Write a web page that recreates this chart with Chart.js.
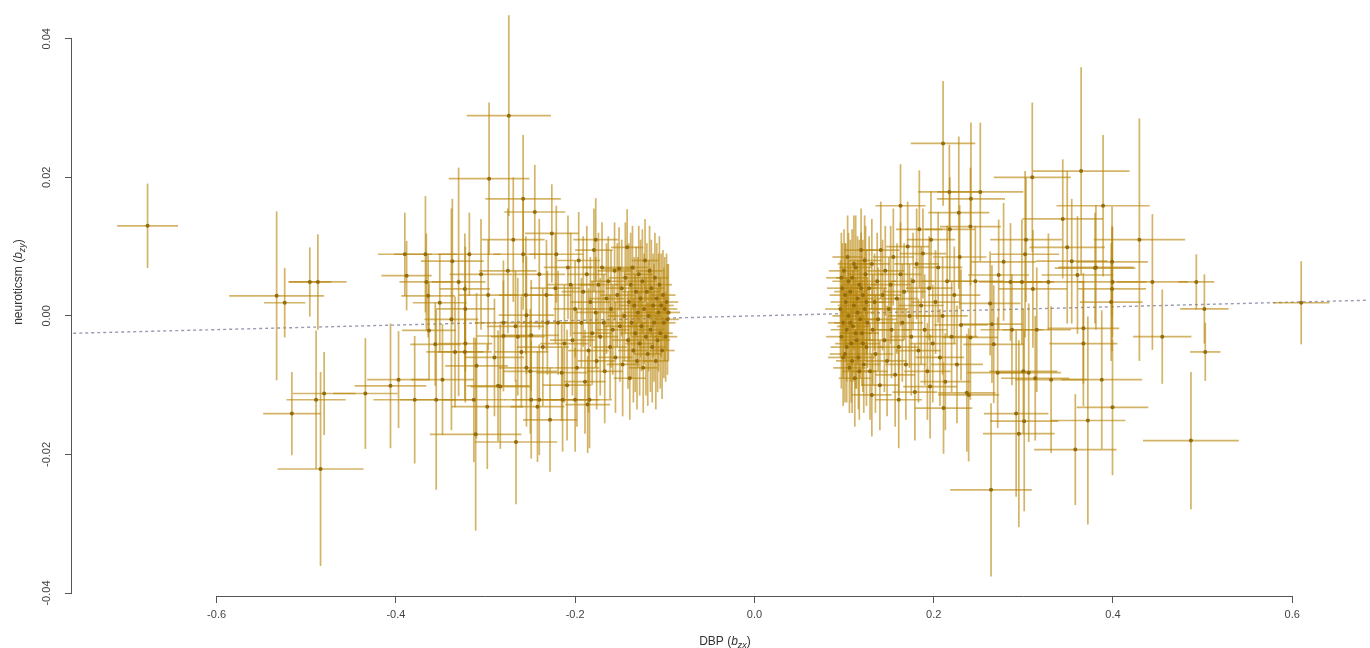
<!DOCTYPE html>
<html>
<head>
<meta charset="utf-8">
<script src="https://cdn.jsdelivr.net/npm/chart.js@4.4.1/dist/chart.umd.min.js"></script>
<style>
  body { margin: 0; background: #fff; }
</style>
</head>
<body>
<canvas id="myChart" width="1370" height="648"></canvas>
<script>
// each SNP: [b_zx, b_zy, se_zx, se_zy]
const leftOuter = [
  [-0.677, 0.0130, 0.034, 0.0061], [-0.533, 0.0029, 0.053, 0.0122], [-0.524, 0.0019, 0.023, 0.0050],
  [-0.496, 0.0049, 0.024, 0.0050], [-0.487, 0.0049, 0.032, 0.0069], [-0.516, -0.0141, 0.032, 0.0060],
  [-0.489, -0.0121, 0.033, 0.0100], [-0.480, -0.0112, 0.035, 0.0060], [-0.484, -0.0221, 0.048, 0.0140],
  [-0.434, -0.0112, 0.036, 0.0080], [-0.406, -0.0101, 0.040, 0.0090], [-0.397, -0.0092, 0.035, 0.0070],
  [-0.379, -0.0121, 0.046, 0.0092], [-0.355, -0.0121, 0.040, 0.0130], [-0.390, 0.0089, 0.030, 0.0060],
  [-0.367, 0.0089, 0.035, 0.0084], [-0.388, 0.0058, 0.028, 0.0050], [-0.366, 0.0049, 0.030, 0.0070],
  [-0.364, 0.0029, 0.030, 0.0060], [-0.363, -0.0021, 0.030, 0.0070], [-0.356, -0.0041, 0.028, 0.0060],
  [-0.348, -0.0092, 0.035, 0.0080], [-0.337, 0.0079, 0.035, 0.0090], [-0.351, 0.0019, 0.030, 0.0070],
  [-0.334, -0.0052, 0.032, 0.0080], [-0.338, -0.0005, 0.030, 0.0160], [-0.330, 0.0049, 0.030, 0.0165],
  [-0.318, 0.0089, 0.035, 0.0060], [-0.323, 0.0039, 0.028, 0.0080], [-0.323, -0.0052, 0.030, 0.0070],
  [-0.3225, 0.0010, 0.033, 0.0090], [-0.3225, -0.0040, 0.030, 0.0085], [-0.313, -0.0121, 0.035, 0.0090],
  [-0.310, -0.0072, 0.035, 0.0105], [-0.311, -0.0171, 0.051, 0.0139], [-0.305, 0.0060, 0.035, 0.0080],
  [-0.298, -0.0131, 0.040, 0.0090], [-0.297, 0.0030, 0.033, 0.0080], [-0.296, 0.0198, 0.045, 0.0110],
  [-0.290, -0.0060, 0.033, 0.0085], [-0.286, -0.0101, 0.035, 0.0080], [-0.2835, -0.0102, 0.033, 0.0090],
  [-0.280, -0.0010, 0.032, 0.0090], [-0.280, -0.0029, 0.030, 0.0080], [-0.275, 0.0065, 0.032, 0.0090],
  [-0.274, 0.0289, 0.047, 0.0145], [-0.269, 0.0110, 0.035, 0.0090], [-0.2665, -0.0015, 0.032, 0.0080],
  [-0.266, -0.0182, 0.046, 0.0090], [-0.264, -0.0030, 0.030, 0.0085], [-0.260, -0.0052, 0.030, 0.0080],
  [-0.258, 0.0169, 0.042, 0.0092], [-0.258, 0.0089, 0.033, 0.0080], [-0.255, 0.0030, 0.030, 0.0085],
  [-0.2543, -0.0075, 0.031, 0.0085], [-0.2543, 0.0001, 0.031, 0.0085], [-0.250, -0.0080, 0.030, 0.0090],
  [-0.249, -0.0121, 0.030, 0.0085], [-0.249, -0.0028, 0.031, 0.0080], [-0.245, 0.0150, 0.034, 0.0068],
  [-0.242, -0.0131, 0.030, 0.0080], [-0.240, 0.0060, 0.029, 0.0080], [-0.240, -0.0121, 0.030, 0.0080],
  [-0.236, -0.0045, 0.029, 0.0085], [-0.232, 0.0030, 0.028, 0.0080], [-0.231, -0.0010, 0.028, 0.0075],
  [-0.228, -0.0150, 0.030, 0.0075], [-0.226, 0.0119, 0.030, 0.0071], [-0.222, 0.0040, 0.028, 0.0080],
  [-0.221, 0.0089, 0.030, 0.0070], [-0.219, -0.0010, 0.027, 0.0075], [-0.215, -0.0082, 0.028, 0.0070],
  [-0.214, -0.0121, 0.030, 0.0075], [-0.212, -0.0040, 0.027, 0.0085], [-0.209, -0.0100, 0.027, 0.0080],
  [-0.208, 0.0070, 0.027, 0.0075], [-0.200, -0.0121, 0.027, 0.0075], [-0.186, -0.0128, 0.025, 0.0070],
  [-0.184, -0.0121, 0.025, 0.0070], [-0.177, 0.0110, 0.025, 0.0060]
];

const leftCluster = [
  [-0.205, 0.0045, 0.026, 0.0075], [-0.203, -0.0035, 0.025, 0.0080], [-0.200, 0.0010, 0.024, 0.0070],
  [-0.198, -0.0075, 0.025, 0.0085], [-0.196, 0.0080, 0.024, 0.0070], [-0.193, -0.0010, 0.023, 0.0065],
  [-0.191, 0.0035, 0.024, 0.0080], [-0.189, -0.0095, 0.023, 0.0075], [-0.187, 0.0060, 0.022, 0.0070],
  [-0.185, -0.0050, 0.023, 0.0090], [-0.183, 0.0020, 0.022, 0.0065], [-0.181, -0.0025, 0.022, 0.0075],
  [-0.179, 0.0095, 0.021, 0.0060], [-0.177, 0.0005, 0.022, 0.0080], [-0.176, -0.0065, 0.021, 0.0070],
  [-0.174, 0.0045, 0.021, 0.0075], [-0.172, -0.0030, 0.020, 0.0085], [-0.170, 0.0070, 0.021, 0.0065],
  [-0.168, -0.0010, 0.020, 0.0070], [-0.167, -0.0080, 0.020, 0.0075], [-0.165, 0.0025, 0.020, 0.0080],
  [-0.163, 0.0050, 0.020, 0.0065], [-0.161, -0.0045, 0.019, 0.0075], [-0.160, 0.0010, 0.020, 0.0085],
  [-0.158, -0.0020, 0.019, 0.0065], [-0.156, 0.0065, 0.019, 0.0070], [-0.155, -0.0060, 0.019, 0.0080],
  [-0.153, 0.0030, 0.019, 0.0075], [-0.151, 0.0068, 0.018, 0.0060], [-0.150, -0.0015, 0.019, 0.0080],
  [-0.148, 0.0040, 0.018, 0.0070], [-0.147, -0.0070, 0.018, 0.0075], [-0.145, 0.0000, 0.018, 0.0065],
  [-0.144, 0.0055, 0.018, 0.0080], [-0.142, 0.0099, 0.018, 0.0055], [-0.141, -0.0035, 0.018, 0.0070],
  [-0.140, 0.0020, 0.017, 0.0085], [-0.139, -0.0090, 0.018, 0.0060], [-0.138, 0.0045, 0.017, 0.0075],
  [-0.137, -0.0010, 0.017, 0.0080], [-0.136, 0.0070, 0.017, 0.0060], [-0.135, -0.0050, 0.017, 0.0075],
  [-0.134, 0.0015, 0.017, 0.0070], [-0.133, -0.0025, 0.017, 0.0085], [-0.132, 0.0035, 0.016, 0.0065],
  [-0.131, -0.0065, 0.017, 0.0070], [-0.130, 0.0005, 0.016, 0.0080], [-0.129, 0.0060, 0.016, 0.0070],
  [-0.128, -0.0040, 0.016, 0.0075], [-0.127, 0.0025, 0.016, 0.0085], [-0.126, -0.0015, 0.016, 0.0065],
  [-0.125, 0.0050, 0.016, 0.0075], [-0.124, -0.0075, 0.016, 0.0065], [-0.123, 0.0010, 0.016, 0.0080],
  [-0.122, 0.0080, 0.015, 0.0060], [-0.121, -0.0030, 0.016, 0.0085], [-0.120, 0.0035, 0.015, 0.0070],
  [-0.119, -0.0055, 0.015, 0.0075], [-0.118, 0.0000, 0.015, 0.0080], [-0.117, 0.0065, 0.015, 0.0065],
  [-0.116, -0.0020, 0.015, 0.0090], [-0.115, 0.0040, 0.015, 0.0070], [-0.114, -0.0045, 0.015, 0.0080],
  [-0.113, 0.0015, 0.015, 0.0075], [-0.112, -0.0010, 0.014, 0.0085], [-0.111, 0.0055, 0.015, 0.0065],
  [-0.110, -0.0065, 0.014, 0.0070], [-0.109, 0.0025, 0.014, 0.0080], [-0.108, -0.0035, 0.014, 0.0075],
  [-0.107, 0.0005, 0.014, 0.0085], [-0.106, 0.0045, 0.014, 0.0070], [-0.105, -0.0025, 0.014, 0.0080],
  [-0.104, 0.0015, 0.014, 0.0075], [-0.103, -0.0050, 0.014, 0.0070], [-0.102, 0.0030, 0.014, 0.0065],
  [-0.101, -0.0010, 0.013, 0.0080], [-0.100, 0.0010, 0.014, 0.0075], [-0.099, -0.0030, 0.013, 0.0065],
  [-0.098, 0.0020, 0.013, 0.0070], [-0.097, -0.0005, 0.013, 0.0080], [-0.096, 0.0005, 0.013, 0.0070]
];

const rightCluster = [
  [0.096, 0.0010, 0.017, 0.0070], [0.097, -0.0030, 0.017, 0.0075], [0.097, 0.0055, 0.017, 0.0065],
  [0.098, 0.0040, 0.017, 0.0065], [0.099, -0.0010, 0.017, 0.0080], [0.099, -0.0060, 0.017, 0.0070],
  [0.100, 0.0065, 0.017, 0.0060], [0.101, -0.0055, 0.017, 0.0070], [0.101, 0.0030, 0.017, 0.0075],
  [0.102, 0.0020, 0.017, 0.0085], [0.103, -0.0020, 0.018, 0.0075], [0.103, -0.0045, 0.018, 0.0080],
  [0.104, 0.0085, 0.017, 0.0060], [0.105, 0.0000, 0.018, 0.0080], [0.105, 0.0050, 0.018, 0.0070],
  [0.106, -0.0075, 0.018, 0.0065], [0.107, 0.0035, 0.018, 0.0075], [0.107, -0.0010, 0.018, 0.0085],
  [0.108, -0.0040, 0.018, 0.0085], [0.109, 0.0055, 0.018, 0.0070], [0.109, -0.0065, 0.018, 0.0075],
  [0.110, -0.0015, 0.018, 0.0080], [0.111, 0.0015, 0.018, 0.0065], [0.111, 0.0075, 0.018, 0.0070],
  [0.112, -0.0090, 0.018, 0.0070], [0.113, 0.0070, 0.018, 0.0075], [0.113, -0.0025, 0.018, 0.0080],
  [0.114, -0.0035, 0.019, 0.0070], [0.115, 0.0025, 0.018, 0.0090], [0.115, 0.0005, 0.019, 0.0075],
  [0.116, -0.0060, 0.019, 0.0075], [0.117, 0.0045, 0.019, 0.0065], [0.117, -0.0080, 0.019, 0.0070],
  [0.118, -0.0005, 0.019, 0.0085], [0.119, 0.0095, 0.019, 0.0060], [0.119, 0.0040, 0.019, 0.0080],
  [0.120, -0.0025, 0.019, 0.0075], [0.121, 0.0030, 0.019, 0.0080], [0.121, -0.0040, 0.019, 0.0070],
  [0.122, -0.0070, 0.019, 0.0070], [0.123, 0.0010, 0.019, 0.0075], [0.123, 0.0080, 0.019, 0.0065],
  [0.124, 0.0060, 0.020, 0.0070], [0.125, -0.0045, 0.019, 0.0085], [0.125, 0.0020, 0.020, 0.0075],
  [0.126, -0.0010, 0.020, 0.0065], [0.128, 0.0040, 0.020, 0.0075], [0.129, -0.0080, 0.020, 0.0070],
  [0.131, 0.0075, 0.020, 0.0065], [0.132, -0.0020, 0.020, 0.0080], [0.134, 0.0020, 0.021, 0.0070],
  [0.135, -0.0055, 0.020, 0.0085], [0.137, 0.0050, 0.021, 0.0070], [0.138, -0.0005, 0.021, 0.0075],
  [0.140, -0.0100, 0.021, 0.0065], [0.141, 0.0095, 0.021, 0.0070], [0.143, 0.0030, 0.021, 0.0080],
  [0.145, -0.0035, 0.022, 0.0075], [0.146, 0.0065, 0.021, 0.0065], [0.148, -0.0065, 0.022, 0.0080],
  [0.150, 0.0010, 0.022, 0.0075], [0.152, 0.0045, 0.022, 0.0085], [0.153, -0.0020, 0.022, 0.0070],
  [0.155, 0.0085, 0.023, 0.0070], [0.157, -0.0085, 0.022, 0.0075], [0.159, 0.0025, 0.023, 0.0080],
  [0.161, -0.0045, 0.023, 0.0070], [0.163, 0.0060, 0.023, 0.0075], [0.165, -0.0010, 0.023, 0.0085],
  [0.167, 0.0035, 0.024, 0.0070], [0.169, -0.0070, 0.023, 0.0080], [0.171, 0.0100, 0.024, 0.0065],
  [0.173, 0.0000, 0.024, 0.0075], [0.175, -0.0030, 0.024, 0.0085], [0.177, 0.0050, 0.024, 0.0070],
  [0.179, -0.0110, 0.025, 0.0070], [0.181, 0.0075, 0.025, 0.0080], [0.183, -0.0050, 0.025, 0.0075],
  [0.186, 0.0015, 0.025, 0.0085], [0.188, 0.0090, 0.026, 0.0065], [0.190, -0.0020, 0.025, 0.0080],
  [0.193, -0.0080, 0.026, 0.0070], [0.195, 0.0040, 0.026, 0.0075], [0.197, 0.0110, 0.027, 0.0070],
  [0.199, -0.0040, 0.026, 0.0085], [0.202, 0.0020, 0.027, 0.0075], [0.205, 0.0070, 0.027, 0.0080],
  [0.207, -0.0060, 0.027, 0.0070], [0.210, 0.0000, 0.028, 0.0085], [0.213, -0.0095, 0.028, 0.0070],
  [0.215, 0.0050, 0.028, 0.0080], [0.218, 0.0125, 0.028, 0.0075], [0.220, -0.0030, 0.029, 0.0080],
  [0.223, 0.0030, 0.029, 0.0070], [0.226, -0.0070, 0.029, 0.0085], [0.229, 0.0085, 0.030, 0.0075]
];

const rightOuter = [
  [0.131, -0.0114, 0.022, 0.0060], [0.161, -0.0121, 0.026, 0.0070], [0.163, 0.0159, 0.028, 0.0060],
  [0.184, 0.0125, 0.026, 0.0085], [0.196, -0.0102, 0.030, 0.0075], [0.2105, 0.0249, 0.036, 0.0090],
  [0.211, -0.0133, 0.032, 0.0066], [0.2175, 0.0179, 0.035, 0.0068], [0.228, 0.0149, 0.034, 0.0110],
  [0.2305, -0.0013, 0.030, 0.0080], [0.237, -0.0111, 0.032, 0.0085], [0.239, -0.0114, 0.034, 0.0096],
  [0.241, 0.0129, 0.034, 0.0085], [0.241, -0.0031, 0.031, 0.0090], [0.2416, 0.0169, 0.038, 0.0110],
  [0.2465, 0.0050, 0.032, 0.0080], [0.252, 0.0179, 0.048, 0.0100], [0.263, 0.0018, 0.034, 0.0075],
  [0.264, -0.0251, 0.0455, 0.0125], [0.265, -0.0012, 0.034, 0.0085], [0.267, -0.0041, 0.034, 0.0085],
  [0.2714, -0.0082, 0.034, 0.0080], [0.2725, 0.0059, 0.034, 0.0080], [0.278, 0.0078, 0.036, 0.0085],
  [0.2857, 0.0049, 0.035, 0.0085], [0.2873, -0.0020, 0.035, 0.0080], [0.292, -0.0141, 0.036, 0.0120],
  [0.295, -0.0170, 0.040, 0.0135], [0.2984, 0.0049, 0.036, 0.0090], [0.300, -0.0080, 0.038, 0.0090],
  [0.301, -0.0152, 0.038, 0.0130], [0.302, 0.0089, 0.038, 0.0120], [0.303, 0.0110, 0.040, 0.0090],
  [0.306, -0.0082, 0.036, 0.0100], [0.310, 0.0200, 0.043, 0.0108], [0.3107, 0.0039, 0.038, 0.0085],
  [0.3133, -0.0090, 0.038, 0.0090], [0.315, -0.0020, 0.038, 0.0090], [0.328, 0.0049, 0.040, 0.0070],
  [0.331, -0.0092, 0.040, 0.0106], [0.344, 0.0140, 0.045, 0.0086], [0.349, 0.0099, 0.042, 0.0110],
  [0.354, 0.0079, 0.040, 0.0090], [0.358, -0.0193, 0.046, 0.0080], [0.3604, 0.0059, 0.040, 0.0085],
  [0.3645, 0.0209, 0.054, 0.0150], [0.367, -0.0018, 0.040, 0.0080], [0.367, -0.0040, 0.038, 0.0090],
  [0.372, -0.0151, 0.042, 0.0150], [0.380, 0.0069, 0.045, 0.0080], [0.381, 0.0070, 0.042, 0.0090],
  [0.3875, -0.0092, 0.045, 0.0100], [0.389, 0.0159, 0.052, 0.0102], [0.398, 0.0020, 0.035, 0.0085],
  [0.399, 0.0078, 0.040, 0.0080], [0.399, 0.0039, 0.038, 0.0090], [0.3995, 0.0049, 0.038, 0.0080],
  [0.3995, -0.0132, 0.040, 0.0098], [0.4295, 0.0110, 0.051, 0.0175], [0.444, 0.0049, 0.040, 0.0098],
  [0.455, -0.0030, 0.0325, 0.0068], [0.487, -0.0180, 0.0535, 0.0099], [0.493, 0.0049, 0.020, 0.0040],
  [0.502, 0.0010, 0.027, 0.0050], [0.503, -0.0052, 0.017, 0.0042], [0.610, 0.0019, 0.0315, 0.0060]
];

const xTicks = [-0.6, -0.4, -0.2, 0.0, 0.2, 0.4, 0.6];
const yTicks = [-0.04, -0.02, 0.00, 0.02, 0.04];
const ivwSlope = 0.0033;
const fitX = [-0.78, 0.70];

const snps = [...leftOuter, ...leftCluster, ...rightCluster, ...rightOuter];
const FONT = '"Liberation Sans", Arial, Helvetica, sans-serif';

// horizontal + vertical se bars, drawn just before the points
const errorBars = {
  id: 'errorBars',
  beforeDatasetDraw(chart, args) {
    if (args.index !== 0) return;
    const { ctx, chartArea: a, scales: { x, y } } = chart;
    ctx.save();
    ctx.beginPath();
    ctx.rect(a.left, a.top, a.width, a.height);
    ctx.clip();
    ctx.strokeStyle = 'rgba(184, 134, 11, 0.62)';
    ctx.lineWidth = 1.7;
    snps.forEach(([bx, by, sx, sy]) => {
      const px = x.getPixelForValue(bx), py = y.getPixelForValue(by);
      ctx.beginPath();
      ctx.moveTo(x.getPixelForValue(bx - sx), py);
      ctx.lineTo(x.getPixelForValue(bx + sx), py);
      ctx.stroke();
      ctx.beginPath();
      ctx.moveTo(px, y.getPixelForValue(by - sy));
      ctx.lineTo(px, y.getPixelForValue(by + sy));
      ctx.stroke();
    });
    ctx.restore();
  }
};

function drawParts(ctx, parts, cx, cy) {
  let w = 0;
  parts.forEach(p => { ctx.font = p.font; w += ctx.measureText(p.t).width; });
  let px = cx - w / 2;
  parts.forEach(p => {
    ctx.font = p.font;
    ctx.fillText(p.t, px, cy + (p.dy || 0));
    px += ctx.measureText(p.t).width;
  });
}

// R style axis lines (first to last tick) and plotmath-like titles
const rAxes = {
  id: 'rAxes',
  afterDraw(chart) {
    const { ctx, chartArea: a, scales: { x, y } } = chart;
    ctx.save();
    ctx.strokeStyle = '#555';
    ctx.lineWidth = 1;
    ctx.beginPath();
    ctx.moveTo(x.getPixelForValue(xTicks[0]), a.bottom + 0.5);
    ctx.lineTo(x.getPixelForValue(xTicks[xTicks.length - 1]), a.bottom + 0.5);
    ctx.moveTo(a.left - 0.5, y.getPixelForValue(yTicks[0]));
    ctx.lineTo(a.left - 0.5, y.getPixelForValue(yTicks[yTicks.length - 1]));
    ctx.stroke();

    ctx.fillStyle = '#333';
    ctx.textBaseline = 'alphabetic';
    const reg = '12px ' + FONT, ita = 'italic 12px ' + FONT, sub = 'italic 9px ' + FONT;
    drawParts(ctx, [
      { t: 'DBP (', font: reg }, { t: 'b', font: ita }, { t: 'zx', font: sub, dy: 3 }, { t: ')', font: reg }
    ], (a.left + a.right + 12) / 2, 645);

    ctx.translate(22, 282);
    ctx.rotate(-Math.PI / 2);
    drawParts(ctx, [
      { t: 'neuroticsm (', font: reg }, { t: 'b', font: ita }, { t: 'zy', font: sub, dy: 3 }, { t: ')', font: reg }
    ], 0, 0);
    ctx.restore();
  }
};

new Chart(document.getElementById('myChart'), {
  type: 'scatter',
  data: {
    datasets: [{
      label: 'SNPs',
      data: snps.map(([bx, by]) => ({ x: bx, y: by })),
      pointRadius: 2,
      pointBackgroundColor: '#946c08',
      pointBorderWidth: 0
    }, {
      type: 'line',
      label: 'fit',
      data: fitX.map(v => ({ x: v, y: ivwSlope * v })),
      borderColor: '#9a9ab4',
      borderWidth: 1.4,
      borderDash: [3, 3],
      pointRadius: 0
    }]
  },
  plugins: [errorBars, rAxes],
  options: {
    responsive: false,
    animation: false,
    layout: { padding: 0 },
    plugins: { legend: { display: false }, tooltip: { enabled: false } },
    scales: {
      x: {
        type: 'linear',
        min: -0.7613,
        max: 0.6823,
        afterBuildTicks: s => { s.ticks = xTicks.map(v => ({ value: v })); },
        afterFit: s => { s.height = 52; s.paddingLeft = 0; s.paddingRight = 0; },
        grid: { drawOnChartArea: false, drawTicks: true, tickLength: 7, color: '#555' },
        border: { display: false },
        ticks: {
          padding: 5,
          color: '#444',
          font: { family: FONT, size: 11 },
          maxRotation: 0,
          callback: v => v.toFixed(1)
        }
      },
      y: {
        type: 'linear',
        min: -0.04043,
        max: 0.04502,
        afterBuildTicks: s => { s.ticks = yTicks.map(v => ({ value: v })); },
        afterFit: s => { s.width = 72; s.paddingTop = 0; s.paddingBottom = 0; },
        grid: { drawOnChartArea: false, drawTicks: true, tickLength: 7, color: '#555' },
        border: { display: false },
        ticks: {
          padding: 5,
          minRotation: 90,
          maxRotation: 90,
          crossAlign: 'center',
          color: '#444',
          font: { family: FONT, size: 11 },
          callback: v => v.toFixed(2)
        }
      }
    }
  }
});
</script>
</body>
</html>
